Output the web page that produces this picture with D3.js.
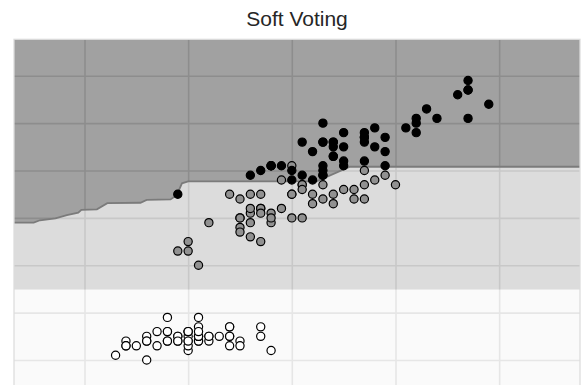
<!DOCTYPE html>
<html>
<head>
<meta charset="utf-8">
<script src="https://cdn.jsdelivr.net/npm/d3@7"></script>
<style>
  html, body { margin: 0; padding: 0; background: #ffffff; overflow: hidden; }
  svg { display: block; }
</style>
</head>
<body>
<svg id="chart" width="587" height="385"></svg>
<script>
// Iris: sepal length (x) vs petal length (y), coloured by species,
// over the decision regions of a soft-voting ensemble.
const chartTitle = "Soft Voting";

const setosaSepal = [5.1,4.9,4.7,4.6,5.0,5.4,4.6,5.0,4.4,4.9,5.4,4.8,4.8,4.3,5.8,5.7,5.4,5.1,5.7,5.1,5.4,5.1,4.6,5.1,4.8,5.0,5.0,5.2,5.2,4.7,4.8,5.4,5.2,5.5,4.9,5.0,5.5,4.9,4.4,5.1,5.0,4.5,4.4,5.0,5.1,4.8,5.1,4.6,5.3,5.0];
const setosaPetal = [1.4,1.4,1.3,1.5,1.4,1.7,1.4,1.5,1.4,1.5,1.5,1.6,1.4,1.1,1.2,1.5,1.3,1.4,1.7,1.5,1.7,1.5,1.0,1.7,1.9,1.6,1.6,1.5,1.4,1.6,1.6,1.5,1.5,1.4,1.5,1.2,1.3,1.4,1.3,1.5,1.3,1.3,1.3,1.6,1.9,1.4,1.6,1.4,1.5,1.4];

const versicolorSepal = [7.0,6.4,6.9,5.5,6.5,5.7,6.3,4.9,6.6,5.2,5.0,5.9,6.0,6.1,5.6,6.7,5.6,5.8,6.2,5.6,5.9,6.1,6.3,6.1,6.4,6.6,6.8,6.7,6.0,5.7,5.5,5.5,5.8,6.0,5.4,6.0,6.7,6.3,5.6,5.5,5.5,6.1,5.8,5.0,5.6,5.7,5.7,6.2,5.1,5.7];
const versicolorPetal = [4.7,4.5,4.9,4.0,4.6,4.5,4.7,3.3,4.6,3.9,3.5,4.2,4.0,4.7,3.6,4.4,4.5,4.1,4.5,3.9,4.8,4.0,4.9,4.7,4.3,4.4,4.8,5.0,4.5,3.5,3.8,3.7,3.9,5.1,4.5,4.5,4.7,4.4,4.1,4.0,4.4,4.6,4.0,3.3,4.2,4.2,4.2,4.3,3.0,4.1];

const virginicaSepal = [6.3,5.8,7.1,6.3,6.5,7.6,4.9,7.3,6.7,7.2,6.5,6.4,6.8,5.7,5.8,6.4,6.5,7.7,7.7,6.0,6.9,5.6,7.7,6.3,6.7,7.2,6.2,6.1,6.4,7.2,7.4,7.9,6.4,6.3,6.1,7.7,6.3,6.4,6.0,6.9,6.7,6.9,5.8,6.8,6.7,6.7,6.3,6.5,6.2,5.9];
const virginicaPetal = [6.0,5.1,5.9,5.6,5.8,6.6,4.5,6.3,5.8,6.1,5.1,5.3,5.5,5.0,5.1,5.3,5.5,6.7,6.9,5.0,5.7,4.9,6.7,4.9,5.7,6.0,4.8,4.9,5.6,5.8,6.1,6.4,5.6,5.1,5.6,6.1,5.6,5.5,4.8,5.4,5.6,5.1,5.1,5.9,5.7,5.2,5.0,5.2,5.4,5.1];

// Predicted-class boundaries (petal length where the predicted class changes)
const setosaVersicolorCut = 2.49;
const upperBoundarySepal = [3.32,3.51,3.57,3.72,3.83,3.94,3.97,4.12,4.22,4.54,4.60,4.83,4.89,4.94,5.00,6.24,6.56,8.78];
const upperBoundaryPetal = [3.90,3.90,3.95,3.99,4.06,4.11,4.17,4.18,4.31,4.32,4.38,4.39,4.48,4.73,4.77,4.77,5.08,5.08];

const xDomain = [3.32, 8.78];
const yDomain = [0, 7.77];
const xTicks = [4, 5, 6, 7, 8];
const yTicks = [0, 1, 2, 3, 4, 5, 6, 7];

// styling
const regionColors = ["#f2f2f2", "#a8a8a8", "#141414"];
const pointFills = ["#ffffff", "#919191", "#000000"];

const W = 587, H = 385;
const margin = { left: 14, right: 7, top: 39.3 };
const plotBottom = 407.4;

const x = d3.scaleLinear().domain(xDomain).range([margin.left, W - margin.right]);
const y = d3.scaleLinear().domain(yDomain).range([plotBottom, margin.top]);

const svg = d3.select("#chart");

svg.append("defs").append("clipPath").attr("id", "plot-clip")
  .append("rect")
  .attr("x", x(xDomain[0])).attr("y", y(yDomain[1]))
  .attr("width", x(xDomain[1]) - x(xDomain[0]))
  .attr("height", y(yDomain[0]) - y(yDomain[1]));

const plot = svg.append("g").attr("clip-path", "url(#plot-clip)");

// grid (sits beneath the translucent regions)
const gridX = d3.axisBottom(x).tickValues(xTicks).tickSize(-(plotBottom - margin.top)).tickFormat("");
const gridY = d3.axisLeft(y).tickValues(yTicks).tickSize(-(W - margin.right - margin.left)).tickFormat("");
plot.append("g").attr("transform", `translate(0,${plotBottom})`).call(gridX);
plot.append("g").attr("transform", `translate(${margin.left},0)`).call(gridY);
plot.selectAll(".domain").remove();
plot.selectAll(".tick line").attr("stroke", "#dedede").attr("stroke-width", 1.6);

// decision regions
const boundary = upperBoundarySepal.map((s, i) => [s, upperBoundaryPetal[i]]);

plot.append("rect")
  .attr("x", x(xDomain[0])).attr("width", x(xDomain[1]) - x(xDomain[0]))
  .attr("y", y(setosaVersicolorCut)).attr("height", y(yDomain[0]) - y(setosaVersicolorCut))
  .attr("fill", regionColors[0]).attr("fill-opacity", 0.4);

plot.append("path")
  .datum(boundary)
  .attr("d", d3.area().x(d => x(d[0])).y0(y(setosaVersicolorCut)).y1(d => y(d[1])))
  .attr("fill", regionColors[1]).attr("fill-opacity", 0.4);

plot.append("path")
  .datum(boundary)
  .attr("d", d3.area().x(d => x(d[0])).y0(d => y(d[1])).y1(y(yDomain[1])))
  .attr("fill", regionColors[2]).attr("fill-opacity", 0.4);

plot.append("path")
  .datum(boundary)
  .attr("d", d3.line().x(d => x(d[0])).y(d => y(d[1])))
  .attr("fill", "none").attr("stroke", "#7b7b7b").attr("stroke-width", 1.8);

// samples
const groups = [
  { sepal: setosaSepal, petal: setosaPetal, fill: pointFills[0] },
  { sepal: versicolorSepal, petal: versicolorPetal, fill: pointFills[1] },
  { sepal: virginicaSepal, petal: virginicaPetal, fill: pointFills[2] }
];
groups.forEach(g => {
  plot.append("g").selectAll("circle")
    .data(g.sepal.map((s, i) => [s, g.petal[i]]))
    .join("circle")
    .attr("cx", d => x(d[0])).attr("cy", d => y(d[1]))
    .attr("r", 4.1)
    .attr("fill", g.fill)
    .attr("stroke", "#000").attr("stroke-width", 1.2);
});

// frame
svg.append("rect")
  .attr("x", x(xDomain[0])).attr("y", y(yDomain[1]))
  .attr("width", x(xDomain[1]) - x(xDomain[0]))
  .attr("height", y(yDomain[0]) - y(yDomain[1]))
  .attr("fill", "none").attr("stroke", "#dcdcdc").attr("stroke-width", 1.25);

// title
svg.append("text")
  .attr("x", (x(xDomain[0]) + x(xDomain[1])) / 2)
  .attr("y", 26)
  .attr("text-anchor", "middle")
  .attr("font-family", "'Liberation Sans', Arial, sans-serif")
  .attr("font-size", 21)
  .attr("fill", "#262626")
  .text(chartTitle);
</script>
</body>
</html>
